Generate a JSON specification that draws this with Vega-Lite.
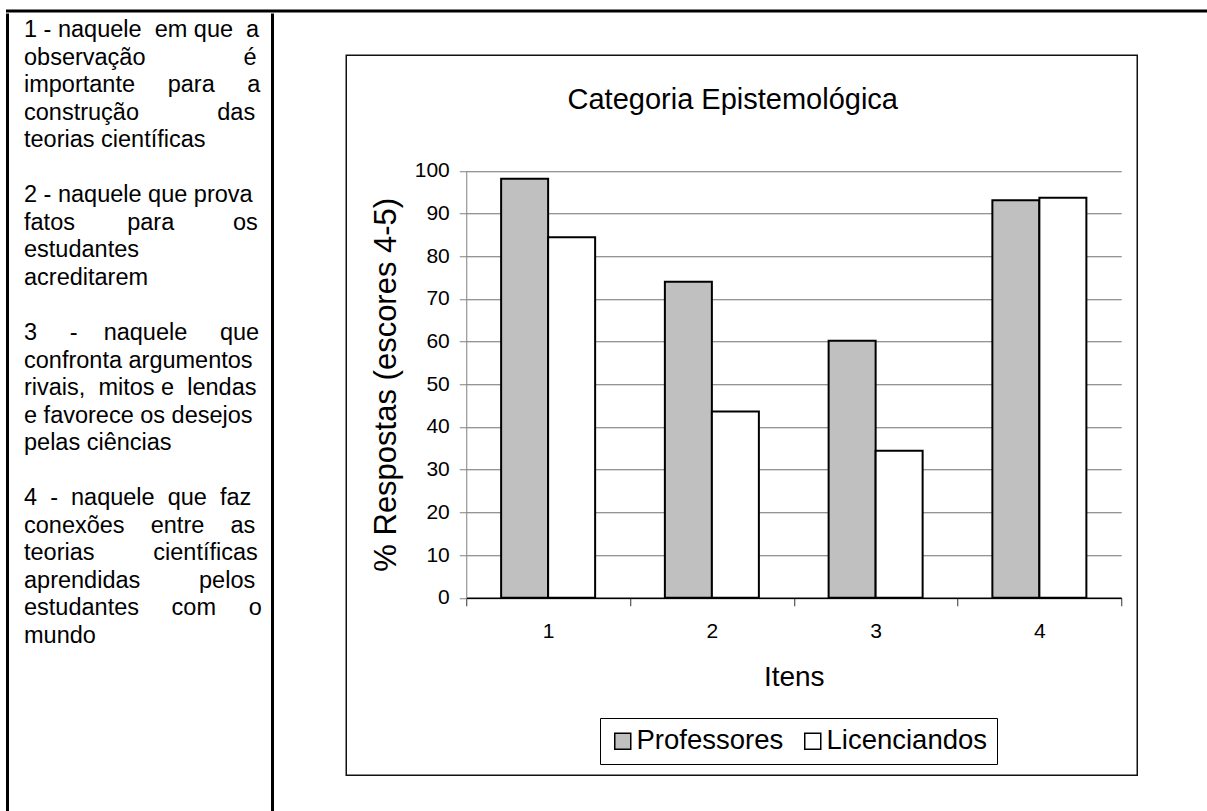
{
  "$schema": "https://vega.github.io/schema/vega-lite/v6.json",
  "background": "white",
  "padding": {"left": 5.5, "top": 9, "right": 0, "bottom": 0},
  "spacing": 0,
  "config": {
    "view": {"stroke": null},
    "font": "Liberation Sans",
    "axis": {"labelColor": "#000", "titleColor": "#000", "labelFont": "Liberation Sans", "titleFont": "Liberation Sans"},
    "legend": {"labelFont": "Liberation Sans", "labelColor": "#000"},
    "title": {"font": "Liberation Sans", "color": "#000"}
  },
  "vconcat": [
    {
      "width": 1198.5,
      "height": 0.01,
      "view": {"stroke": "#000", "strokeWidth": 3},
      "data": {"values": [{}]},
      "mark": {"type": "rect", "opacity": 0},
      "encoding": {}
    },
    {
      "spacing": 70.75,
      "hconcat": [
        {
          "spacing": 0,
          "hconcat": [
            {
              "width": 0.01,
              "height": 796,
              "view": {"stroke": "#000", "strokeWidth": 3},
              "data": {"values": [{}]},
              "mark": {"type": "rect", "opacity": 0},
              "encoding": {}
            },
            {
              "width": 261,
              "height": 796,
              "data": {
                "values": [
                  {"line": 1, "text": "1\u00a0-\u00a0naquele\u00a0\u00a0em\u00a0que\u00a0\u00a0a"},
                  {"line": 2, "text": "observação\u00a0\u00a0\u00a0\u00a0\u00a0\u00a0\u00a0\u00a0\u00a0\u00a0\u00a0\u00a0\u00a0\u00a0\u00a0é"},
                  {"line": 3, "text": "importante\u00a0\u00a0\u00a0\u00a0\u00a0para\u00a0\u00a0\u00a0\u00a0\u00a0a"},
                  {"line": 4, "text": "construção\u00a0\u00a0\u00a0\u00a0\u00a0\u00a0\u00a0\u00a0\u00a0\u00a0\u00a0\u00a0das"},
                  {"line": 5, "text": "teorias científicas"},
                  {"line": 7, "text": "2 - naquele que prova"},
                  {"line": 8, "text": "fatos\u00a0\u00a0\u00a0\u00a0\u00a0\u00a0\u00a0\u00a0para\u00a0\u00a0\u00a0\u00a0\u00a0\u00a0\u00a0\u00a0\u00a0os"},
                  {"line": 9, "text": "estudantes"},
                  {"line": 10, "text": "acreditarem"},
                  {"line": 12, "text": "3\u00a0\u00a0\u00a0\u00a0\u00a0-\u00a0\u00a0\u00a0\u00a0naquele\u00a0\u00a0\u00a0\u00a0\u00a0que"},
                  {"line": 13, "text": "confronta argumentos"},
                  {"line": 14, "text": "rivais,\u00a0\u00a0mitos\u00a0e\u00a0\u00a0lendas"},
                  {"line": 15, "text": "e favorece os desejos"},
                  {"line": 16, "text": "pelas ciências"},
                  {"line": 18, "text": "4\u00a0\u00a0-\u00a0\u00a0naquele\u00a0\u00a0que\u00a0\u00a0faz"},
                  {"line": 19, "text": "conexões\u00a0\u00a0\u00a0\u00a0entre\u00a0\u00a0\u00a0\u00a0as"},
                  {"line": 20, "text": "teorias\u00a0\u00a0\u00a0\u00a0\u00a0\u00a0\u00a0\u00a0\u00a0científicas"},
                  {"line": 21, "text": "aprendidas\u00a0\u00a0\u00a0\u00a0\u00a0\u00a0\u00a0\u00a0\u00a0pelos"},
                  {"line": 22, "text": "estudantes\u00a0\u00a0\u00a0\u00a0\u00a0com\u00a0\u00a0\u00a0\u00a0\u00a0o"},
                  {"line": 23, "text": "mundo"}
                ]
              },
              "mark": {"type": "text", "align": "left", "baseline": "middle", "fontSize": 23.5, "color": "#000"},
              "encoding": {
                "x": {"datum": 0, "type": "quantitative", "scale": {"domain": [0, 1], "range": [14.5, 248.5]}, "axis": null},
                "y": {"field": "line", "type": "quantitative", "scale": {"domain": [1, 23], "range": [15, 621]}, "axis": null},
                "text": {"field": "text"}
              }
            },
            {
              "width": 0.01,
              "height": 796,
              "view": {"stroke": "#000", "strokeWidth": 3},
              "data": {"values": [{}]},
              "mark": {"type": "rect", "opacity": 0},
              "encoding": {}
            }
          ]
        },
        {
          "spacing": 38.25,
          "vconcat": [
            {
              "width": 1,
              "height": 1,
              "data": {"values": [{}]},
              "mark": {"type": "rect", "opacity": 0},
              "encoding": {}
            },
            {
              "width": 791,
              "height": 720,
              "view": {"stroke": "#111", "strokeWidth": 1.5},
              "title": {"text": "Categoria Epistemológica", "fontSize": 29, "fontWeight": "normal", "offset": -60, "dx": -9, "anchor": "middle", "frame": "group"},
              "data": {
                "values": [
                  {"Item": "1", "Grupo": "Professores", "Valor": 98.1},
                  {"Item": "1", "Grupo": "Licenciandos", "Valor": 84.4},
                  {"Item": "2", "Grupo": "Professores", "Valor": 74.0},
                  {"Item": "2", "Grupo": "Licenciandos", "Valor": 43.6},
                  {"Item": "3", "Grupo": "Professores", "Valor": 60.2},
                  {"Item": "3", "Grupo": "Licenciandos", "Valor": 34.4},
                  {"Item": "4", "Grupo": "Professores", "Valor": 93.1},
                  {"Item": "4", "Grupo": "Licenciandos", "Valor": 93.7}
                ]
              },
              "mark": {"type": "bar", "stroke": "#000", "strokeWidth": 2},
              "encoding": {
                "x": {
                  "field": "Item", "type": "nominal",
                  "scale": {"range": [120, 775], "paddingInner": 0, "paddingOuter": 0},
                  "axis": {
                    "offset": -177.5, "labelAngle": 0, "tickBand": "extent", "tickSize": 8, "tickColor": "#333",
                    "labelPadding": 14.5, "labelFontSize": 21, "domainColor": "#000", "domainWidth": 1.5, "grid": false,
                    "title": "Itens", "titleFontSize": 28, "titleFontWeight": "normal", "titlePadding": 22.5
                  }
                },
                "xOffset": {"field": "Grupo", "sort": ["Professores", "Licenciandos"], "scale": {"paddingInner": 0, "paddingOuter": 0.742}},
                "y": {
                  "field": "Valor", "type": "quantitative",
                  "scale": {"domain": [0, 100], "range": [542.5, 115.5], "nice": false},
                  "axis": {
                    "offset": -120, "values": [0, 10, 20, 30, 40, 50, 60, 70, 80, 90, 100],
                    "grid": true, "gridColor": "#707070", "gridWidth": 1,
                    "domainColor": "#808080", "tickColor": "#808080", "tickSize": 7,
                    "labelPadding": 10, "labelFontSize": 21,
                    "title": "% Respostas (escores 4-5)", "titleFontSize": 31, "titleFontWeight": "normal", "titlePadding": 12
                  }
                },
                "color": {
                  "field": "Grupo", "type": "nominal", "sort": ["Professores", "Licenciandos"],
                  "scale": {"domain": ["Professores", "Licenciandos"], "range": ["#c0c0c0", "#ffffff"]},
                  "legend": {
                    "orient": "none", "legendX": 592.5, "legendY": 707, "direction": "horizontal", "title": null,
                    "strokeColor": "#000", "fillColor": "#fff", "padding": 9,
                    "symbolType": "square", "symbolSize": 256, "symbolStrokeColor": "#000", "symbolStrokeWidth": 1.5,
                    "labelFontSize": 27.5, "labelOffset": 0, "labelLimit": 300, "columnPadding": 15
                  }
                }
              }
            }
          ]
        }
      ]
    }
  ]
}
